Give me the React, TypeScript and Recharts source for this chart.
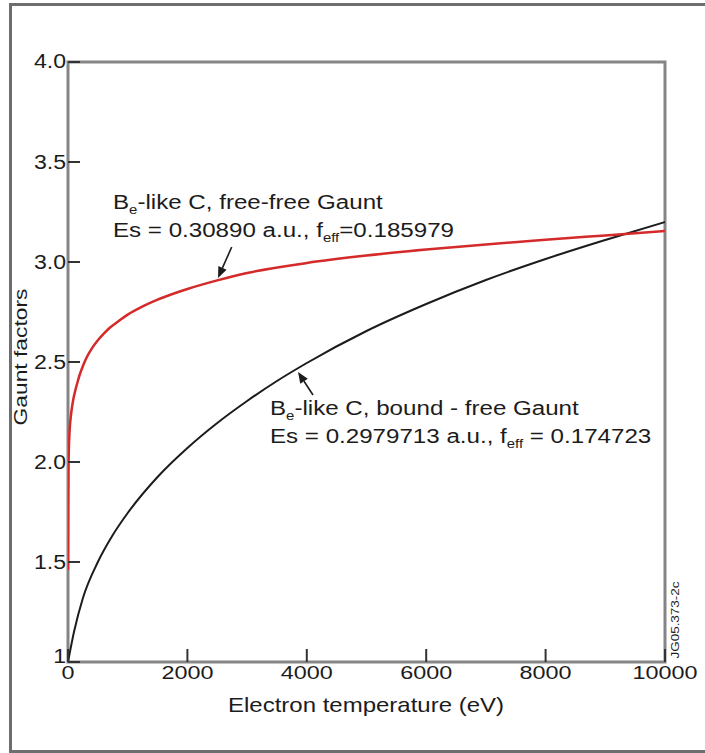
import React from 'react';
import { LineChart, Line, XAxis, YAxis, ReferenceArea, ReferenceLine } from 'recharts';

// free-free Gaunt (red)
const ffTemp = [0, 3, 8, 15, 25, 35, 50, 70, 90, 120, 160, 200, 250, 300, 400, 500, 600, 700, 850, 1000, 1250, 1500, 1750, 2000, 2500, 3000, 4000, 5000, 6000, 7000, 8000, 9000, 10000];
const ffGaunt = [1.46, 1.78, 1.97, 2.07, 2.145, 2.19, 2.235, 2.28, 2.315, 2.355, 2.4, 2.44, 2.48, 2.515, 2.568, 2.609, 2.642, 2.671, 2.705, 2.737, 2.778, 2.812, 2.84, 2.865, 2.908, 2.945, 2.995, 3.032, 3.062, 3.088, 3.111, 3.133, 3.155];

// bound-free Gaunt (black)
const bfTemp = [0, 100, 250, 500, 750, 1000, 1500, 2000, 2500, 3000, 3500, 4000, 5000, 6000, 7000, 8000, 9000, 10000];
const bfGaunt = [1.0, 1.15, 1.32, 1.5, 1.635, 1.745, 1.925, 2.07, 2.195, 2.305, 2.405, 2.495, 2.655, 2.79, 2.91, 3.015, 3.11, 3.2];

const xTicks = [0, 2000, 4000, 6000, 8000, 10000];
const yTicks = [1, 1.5, 2, 2.5, 3, 3.5, 4];

const ffData = ffTemp.map((t, i) => ({ t, g: ffGaunt[i] }));
const bfData = bfTemp.map((t, i) => ({ t, g: bfGaunt[i] }));

const FONT = '"Liberation Sans", Arial, sans-serif';
const INK = '#1c1c1c';

class Boundary extends React.Component<any, { err: string | null }> {
  constructor(props: any) {
    super(props);
    this.state = { err: null };
  }
  static getDerivedStateFromError(e: any) {
    return { err: String(e && e.stack ? e.stack : e) };
  }
  render() {
    if (this.state.err) return <pre style={{ fontSize: 10, whiteSpace: 'pre-wrap' }}>{this.state.err}</pre>;
    return this.props.children;
  }
}

const YTick = (props: any) => {
  const x = Number(props.x);
  const y = Number(props.y);
  const v = Number(props.payload?.value);
  const label = v === 1 ? '1' : v.toFixed(1);
  const dy = v === 1 ? 1 : v === 4 ? 6 : 7;
  return (
    <g>
      <line x1={x} x2={x + 12} y1={y} y2={y} stroke="#333" strokeWidth={2} />
      <text
        transform={`translate(${x - 2},${y + dy}) scale(1.1,1)`}
        textAnchor="end"
        fontSize={21}
        fontFamily={FONT}
        fill={INK}
      >
        {label}
      </text>
    </g>
  );
};

const XTick = (props: any) => {
  const x = Number(props.x);
  const y = Number(props.y);
  const v = props.payload?.value;
  return (
    <g>
      <line x1={x} x2={x} y1={y} y2={y - 13} stroke="#333" strokeWidth={2} />
      <text
        transform={`translate(${x},${y + 17}) scale(1.3,1)`}
        textAnchor="middle"
        fontSize={18}
        fontFamily={FONT}
        fill={INK}
      >
        {String(v)}
      </text>
    </g>
  );
};

const Arrow = (props: any) => {
  const x1 = Number(props.x1);
  const y1 = Number(props.y1);
  const x2 = Number(props.x2);
  const y2 = Number(props.y2);
  if (![x1, y1, x2, y2].every(Number.isFinite)) return null;
  const ang = Math.atan2(y2 - y1, x2 - x1);
  const L = 11;
  const W = 4.5;
  const bx = x2 - L * Math.cos(ang);
  const by = y2 - L * Math.sin(ang);
  const px = -Math.sin(ang) * W;
  const py = Math.cos(ang) * W;
  return (
    <g>
      <line x1={x1} y1={y1} x2={bx} y2={by} stroke={INK} strokeWidth={1.6} />
      <polygon points={`${x2},${y2} ${bx + px},${by + py} ${bx - px},${by - py}`} fill={INK} />
    </g>
  );
};

const Note = ({ x, y, sub1, rest1, pre2, sub2, rest2 }: any) => (
  <text
    transform={`translate(${x},${y}) scale(1.15,1)`}
    fontSize={21}
    fontFamily={FONT}
    fill={INK}
  >
    <tspan x={0} y={0}>B</tspan>
    <tspan fontSize={13} dy={5}>{sub1}</tspan>
    <tspan dy={-5}>{rest1}</tspan>
    <tspan x={0} y={28}>{pre2}</tspan>
    <tspan fontSize={13} dy={5}>{sub2}</tspan>
    <tspan dy={-5}>{rest2}</tspan>
  </text>
);

function Chart() {
  return (
    <LineChart width={705} height={753} margin={{ top: 62, right: 40, bottom: 61, left: 8 }}>
      <XAxis
        dataKey="t"
        type="number"
        domain={[0, 10000]}
        ticks={xTicks}
        axisLine={false}
        tickLine={false}
        tickSize={0}
        tickMargin={0}
        tick={(p: any) => <XTick {...p} />}
        height={30}
        allowDataOverflow
      />
      <YAxis
        type="number"
        domain={[1, 4]}
        ticks={yTicks}
        axisLine={false}
        tickLine={false}
        tickSize={0}
        tickMargin={0}
        tick={(p: any) => <YTick {...p} />}
        width={60}
        allowDataOverflow
      />
      <ReferenceArea x1={0} x2={10000} y1={1} y2={4} fill="none" stroke="#858585" strokeWidth={3} />
      <Line
        data={bfData}
        dataKey="g"
        type="monotone"
        stroke={INK}
        strokeWidth={2}
        dot={false}
        isAnimationActive={false}
      />
      <Line
        data={ffData}
        dataKey="g"
        type="monotone"
        stroke="#d42a2a"
        strokeWidth={2.5}
        dot={false}
        isAnimationActive={false}
      />
      <ReferenceLine segment={[{ x: 2742, y: 3.075 }, { x: 2513, y: 2.92 }]} shape={(p: any) => <Arrow {...p} />} />
      <ReferenceLine segment={[{ x: 4104, y: 2.335 }, { x: 3853, y: 2.45 }]} shape={(p: any) => <Arrow {...p} />} />
    </LineChart>
  );
}

export default function App() {
  return (
    <div>
      <div
        style={{
          position: 'absolute',
          left: 9,
          top: 3,
          width: 700,
          height: 744,
          borderTop: '3px solid #6e6e6e',
          borderLeft: '3px solid #6e6e6e',
          borderBottom: '3px solid #6e6e6e',
        }}
      />
      <div style={{ position: 'absolute', left: 0, top: 0 }}>
        <Boundary>
          <Chart />
        </Boundary>
      </div>
      <svg
        width={705}
        height={753}
        style={{ position: 'absolute', left: 0, top: 0, pointerEvents: 'none' }}
      >
        <Note
          x={113}
          y={209}
          sub1="e"
          rest1="-like C, free-free Gaunt"
          pre2="Es = 0.30890 a.u., f"
          sub2="eff"
          rest2="=0.185979"
        />
        <Note
          x={270}
          y={415}
          sub1="e"
          rest1="-like C, bound - free Gaunt"
          pre2="Es = 0.2979713 a.u., f"
          sub2="eff"
          rest2=" = 0.174723"
        />
        <text
          transform="translate(366,712) scale(1.2,1)"
          textAnchor="middle"
          fontSize={20}
          fontFamily={FONT}
          fill={INK}
        >
          Electron temperature (eV)
        </text>
        <text
          transform="translate(27,357) rotate(-90) scale(1.2,1)"
          textAnchor="middle"
          fontSize={19}
          fontFamily={FONT}
          fill={INK}
        >
          Gaunt factors
        </text>
        <text
          transform="translate(679,620) rotate(-90) scale(1.35,1)"
          textAnchor="middle"
          fontSize={10}
          fontFamily={FONT}
          fill={INK}
        >
          JG05.373-2c
        </text>
      </svg>
    </div>
  );
}
